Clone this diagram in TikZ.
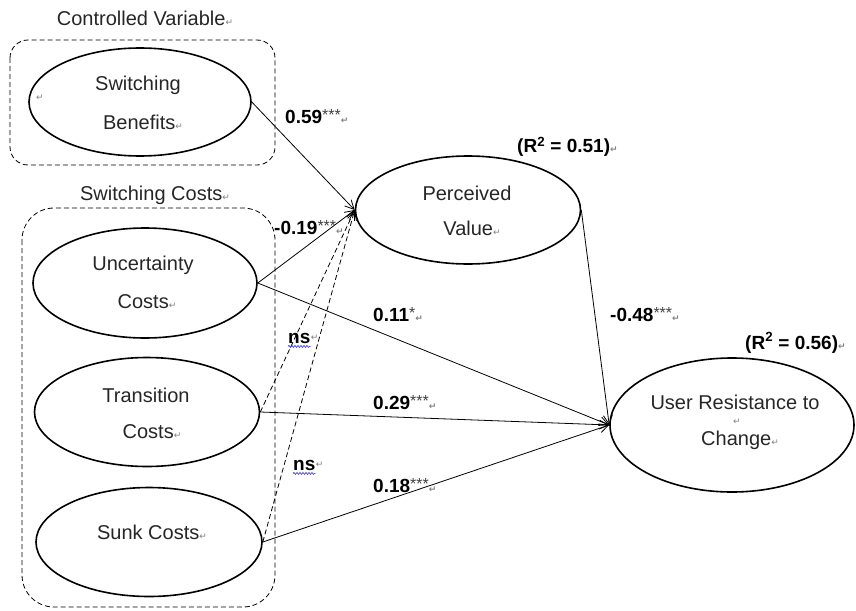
\documentclass[tikz,border=0pt]{standalone}
\usepackage{fontspec}
\setmainfont{Liberation Sans}
\newfontfamily\djv{DejaVu Sans}
\usetikzlibrary{shapes.geometric,arrows.meta,decorations.pathmorphing}
\newcommand\pmark{{\djv\fontsize{9}{9}\selectfont\color{gray}\char"21B5}}
\newcommand\starsup[1]{\raisebox{3pt}{\fontsize{16}{16}\selectfont\mdseries\color{black!75}#1}}
\begin{document}
\begin{tikzpicture}[x=1pt,y=-1pt,
  oval/.style={draw, ellipse, line width=1.6pt, inner sep=0pt},
  txt/.style={inner sep=0pt, font=\fontsize{20}{24}\selectfont, text=black!85},
  lab/.style={inner sep=0pt, anchor=west, font=\fontsize{19}{22}\selectfont\bfseries},
  grp/.style={draw, dashed, line width=0.8pt, dash pattern=on 5pt off 3pt},
  arr/.style={line width=0.8pt, -{Straight Barb[length=9pt,width=9pt]}},
  darr/.style={arr, dash pattern=on 5pt off 3pt},
  spell/.style={draw=blue!80, line width=0.6pt, decorate, decoration={snake, amplitude=1pt, segment length=3pt}}]
\useasboundingbox (0,0) rectangle (856,610);
% group boxes
\draw[grp, rounded corners=18pt] (10,40) rectangle (275,165);
\draw[grp, rounded corners=32pt] (22,208) rectangle (275,607);
\node[txt] (cvt) at (145,18) {Controlled Variable\pmark};
\node[txt] (sct) at (155,195) {Switching Costs\pmark};
% ellipses
\node[oval, minimum width=222pt, minimum height=108pt] (sb) at (140,102) {};
\node[oval, minimum width=224pt, minimum height=110pt] (uc) at (145,283) {};
\node[oval, minimum width=225pt, minimum height=109pt] (tc) at (147,412) {};
\node[oval, minimum width=226pt, minimum height=109pt] (sc) at (149,542) {};
\node[oval, minimum width=225pt, minimum height=108pt] (pv) at (468,210) {};
\node[oval, minimum width=244pt, minimum height=134pt] (urc) at (732,425) {};
% ellipse texts
\node[txt] (sb1) at (138,85) {Switching};
\node[txt] (sb2) at (143,122) {Benefits\pmark};
\node[txt] (sb0) at (40,98) {\pmark};
\node[txt] (uc1) at (143,265) {Uncertainty};
\node[txt] (uc2) at (147,302) {Costs\pmark};
\node[txt] (tc1) at (146,395) {Transition};
\node[txt] (tc2) at (152,432) {Costs\pmark};
\node[txt] (sc1) at (152,532) {Sunk Costs\pmark};
\node[txt] (pv1) at (467,193) {Perceived};
\node[txt] (pv2) at (472,228) {Value\pmark};
\node[txt] (ur1) at (735,402) {User Resistance to};
\node[txt] (ur0) at (737,422) {\pmark};
\node[txt] (ur2) at (740,440) {Change\pmark};
% connectors
\draw[arr] (sb.east) -- (pv.west);
\draw[arr] (uc.east) -- (pv.west);
\draw[arr] (uc.east) -- (urc.west);
\draw[darr] (tc.east) -- (pv.west);
\draw[arr] (tc.east) -- (urc.west);
\draw[darr] (sc.east) -- (pv.west);
\draw[arr] (sc.east) -- (urc.west);
\draw[arr] (pv.east) -- (urc.west);
% labels
\node[lab] (l1) at (285,117) {0.59\starsup{***}\pmark};
\node[lab] (l2) at (274,228) {-0.19\starsup{***}\pmark};
\node[lab] (l3) at (373,315) {0.11\starsup{*}\pmark};
\node[lab] (ns1) at (288,338) {ns};
\node[txt, anchor=west] (ns1m) at (ns1.east) {\pmark};
\draw[spell] ([yshift=-3pt]ns1.south west) -- ([yshift=-3pt]ns1.south east);
\node[lab] (l4) at (373,403) {0.29\starsup{***}\pmark};
\node[lab] (ns2) at (293,465) {ns};
\node[txt, anchor=west] (ns2m) at (ns2.east) {\pmark};
\draw[spell] ([yshift=-3pt]ns2.south west) -- ([yshift=-3pt]ns2.south east);
\node[lab] (l5) at (373,486) {0.18\starsup{***}\pmark};
\node[lab] (l6) at (610,315) {-0.48\starsup{***}\pmark};
\node[lab] (r1) at (517,147) {(R\textsuperscript{2} = 0.51)\pmark};
\node[lab] (r2) at (745,343) {(R\raisebox{2pt}{\textsuperscript{2}} = 0.56)\pmark};
\end{tikzpicture}
\end{document}
